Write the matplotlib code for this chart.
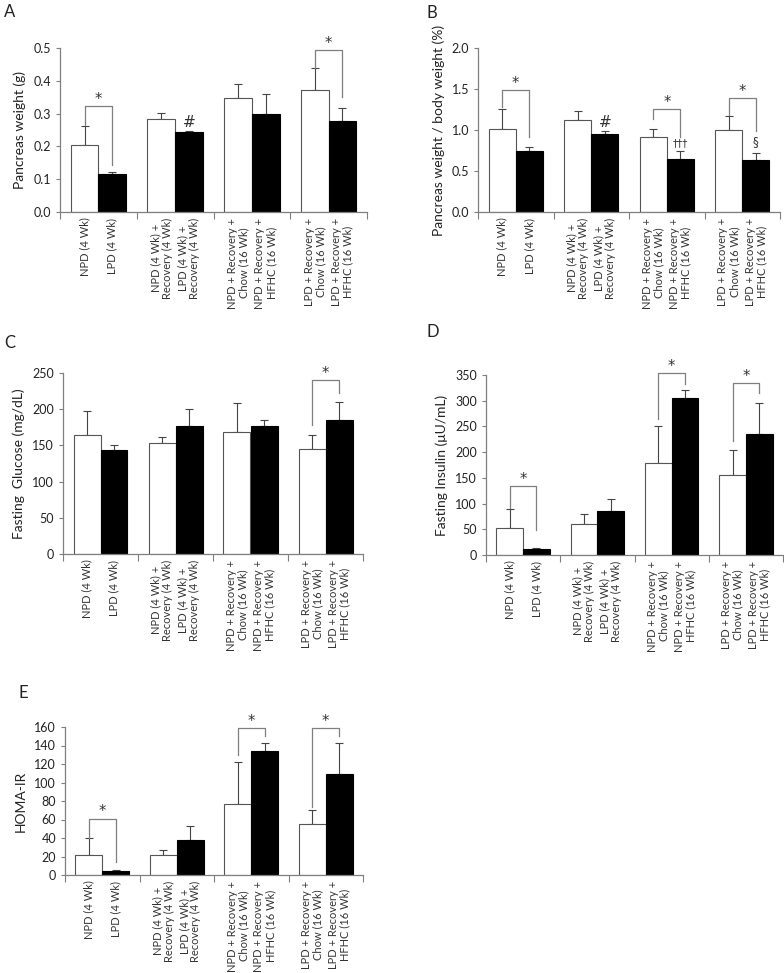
import numpy as np
import matplotlib.pyplot as plt

plt.rcParams['font.family'] = ['Lato', 'DejaVu Sans']

groups = ['NPD (4 Wk)', 'LPD (4 Wk)',
          'NPD (4 Wk) +\nRecovery (4 Wk)', 'LPD (4 Wk) +\nRecovery (4 Wk)',
          'NPD + Recovery +\nChow (16 Wk)', 'NPD + Recovery +\nHFHC (16 Wk)',
          'LPD + Recovery +\nChow (16 Wk)', 'LPD + Recovery +\nHFHC (16 Wk)']

# values (mean) and upper error bars
pw_mean = [0.205, 0.117, 0.285, 0.245, 0.347, 0.300, 0.372, 0.278]
pw_err = [0.058, 0.004, 0.016, 0.003, 0.043, 0.060, 0.066, 0.039]

pbw_mean = [1.01, 0.75, 1.12, 0.95, 0.91, 0.65, 1.005, 0.64]
pbw_err = [0.25, 0.04, 0.11, 0.035, 0.10, 0.095, 0.165, 0.075]

glu_mean = [165, 143, 154, 177, 169, 177, 145, 185]
glu_err = [32, 8, 7, 23, 40, 8, 20, 25]

ins_mean = [52, 12, 60, 85, 178, 305, 155, 236]
ins_err = [38, 2, 20, 23, 73, 16, 50, 60]

homa_mean = [22, 4, 22, 38, 77, 134, 55, 109]
homa_err = [18, 1, 5, 15, 45, 9, 15, 34]

# brackets: (group, top, left leg end, right leg end)
pw_brackets = [(0, 0.323, 0.265, 0.143), (3, 0.493, 0.44, 0.352)]
pbw_brackets = [(0, 1.49, 1.28, 0.92), (2, 1.257, 1.14, 0.92), (3, 1.39, 1.18, 0.99)]
glu_brackets = [(3, 240.8, 178.5, 222)]
ins_brackets = [(0, 134, 91, 48.6), (2, 354.6, 265, 332.6), (3, 334.6, 221.7, 315)]
homa_brackets = [(0, 61, 40, 13.7), (2, 159, 129.5, 150), (3, 159, 73.7, 150)]

W, H = 784, 973
fig = plt.figure(figsize=(W / 100, H / 100), dpi=100)

GRAY = '#7f7f7f'
BW = 0.36


def make_axes(l, r, t, b):
    return fig.add_axes([l / W, (H - b) / H, (r - l) / W, (b - t) / H])


def panel(ax, mean, err, ymax, ystep, ylabel, brackets, fmt, extras=()):
    x = np.repeat(np.arange(4), 2) + 0.5 + np.tile([-BW / 2, BW / 2], 4)
    colors = ['white', 'black'] * 4
    ax.bar(x, mean, width=BW, color=colors, edgecolor=['#555555', 'black'] * 4,
           linewidth=0.8, zorder=2)
    ax.errorbar(x, mean, yerr=[np.zeros(8), err], fmt='none', ecolor='#444444',
                elinewidth=0.8, capsize=3, capthick=0.8, zorder=1)
    for g, top, lft, rgt in brackets:
        xl = g + 0.5 - BW / 2
        xr = g + 0.5 + BW / 2
        ax.plot([xl, xl, xr, xr], [lft, top, top, rgt], color=GRAY, lw=0.9,
                clip_on=False, zorder=3)
        ax.text((xl + xr) / 2, top - ymax * 0.005, '*', ha='center', va='bottom',
                fontsize=10.5, color='#333333', clip_on=False, family='DejaVu Sans')
    for xi, yv, s, fs in extras:
        ax.text(x[xi], yv, s, ha='center', va='bottom', fontsize=fs, color='#333333',
                family='DejaVu Sans')
    ax.set_xlim(0, 4)
    ax.set_ylim(0, ymax)
    ticks = np.arange(0, ymax + ystep / 2, ystep)
    ax.set_yticks(ticks)
    ax.set_yticklabels([fmt.format(v) for v in ticks])
    ax.set_xticks([0, 1, 2, 3, 4])
    ax.set_xticklabels([])
    ax.set_xticks(x, minor=True)
    ax.set_xticklabels(groups, minor=True, rotation=90, fontsize=8,
                       color='#333333', multialignment='center', linespacing=1.05)
    ax.tick_params(axis='x', which='minor', length=0, pad=4)
    ax.tick_params(axis='x', which='major', length=5, color=GRAY, direction='out')
    ax.tick_params(axis='y', length=3, color=GRAY, labelsize=9, labelcolor='#222222')
    for s in ['top', 'right']:
        ax.spines[s].set_visible(False)
    for s in ['left', 'bottom']:
        ax.spines[s].set_color(GRAY)
        ax.spines[s].set_linewidth(0.9)
    ax.set_ylabel(ylabel, fontsize=10, color='#222222', labelpad=5)


axA = make_axes(60, 367, 48, 212)
panel(axA, pw_mean, pw_err, 0.5, 0.1, 'Pancreas weight (g)', pw_brackets, '{:.1f}',
      extras=[(3, 0.25, '#', 11)])

axB = make_axes(478, 780, 48, 212)
panel(axB, pbw_mean, pbw_err, 2.0, 0.5, 'Pancreas weight / body weight (%)', pbw_brackets,
      '{:.1f}', extras=[(3, 1.0, '#', 11), (5, 0.78, '†††', 7.5), (7, 0.78, '§', 8.5)])

axC = make_axes(63, 363, 373, 554)
panel(axC, glu_mean, glu_err, 250, 50, 'Fasting  Glucose (mg/dL)', glu_brackets, '{:.0f}')

axD = make_axes(486, 783, 375, 555)
panel(axD, ins_mean, ins_err, 350, 50, 'Fasting Insulin (μU/mL)', ins_brackets, '{:.0f}')

axE = make_axes(65, 363, 727, 875)
panel(axE, homa_mean, homa_err, 160, 20, 'HOMA-IR', homa_brackets, '{:.0f}')

for lbl, px, py in [('A', 4, 12), ('B', 427, 13), ('C', 4, 343), ('D', 427, 332), ('E', 18, 693)]:
    fig.text(px / W, 1 - py / H, lbl, fontsize=12, color='#222222', ha='left', va='center')

fig.savefig('out.png', dpi=100)
